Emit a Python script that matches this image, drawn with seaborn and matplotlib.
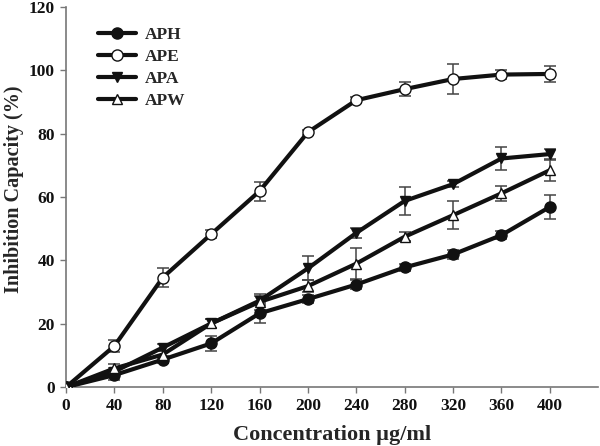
import numpy as np
import pandas as pd
import matplotlib
matplotlib.use("Agg")
import matplotlib.pyplot as plt
import seaborn as sns

# concentration (ug/ml)
conc = [0, 40, 80, 120, 160, 200, 240, 280, 320, 360, 400]

# inhibition capacity (%) and error bars
aph = [0, 3.8, 8.7, 13.8, 23.3, 27.8, 32.4, 37.8, 41.9, 48.0, 56.9]
aph_err = [0, 1.5, 1.0, 2.5, 3.2, 1.2, 1.5, 1.2, 1.5, 1.3, 3.7]
ape = [0, 13.0, 34.6, 48.3, 61.9, 80.5, 90.6, 94.1, 97.3, 98.7, 98.9]
ape_err = [0, 2.0, 3.0, 1.2, 3.0, 0.8, 1.0, 2.3, 4.7, 1.5, 2.6]
apa = [0, 4.9, 12.5, 20.1, 27.3, 37.5, 48.7, 58.8, 64.1, 72.2, 73.6]
apa_err = [0, 1.2, 1.0, 1.5, 1.5, 3.8, 1.5, 4.5, 1.0, 3.6, 1.5]
apw = [0, 5.9, 10.3, 20.1, 26.9, 31.9, 39.0, 47.5, 54.3, 61.2, 68.5]
apw_err = [0, 1.5, 1.0, 1.5, 2.5, 2.0, 4.8, 1.5, 4.5, 2.3, 3.3]

series = ["APH", "APE", "APA", "APW"]
values = {"APH": aph, "APE": ape, "APA": apa, "APW": apw}
errors = {"APH": aph_err, "APE": ape_err, "APA": apa_err, "APW": apw_err}

rows = []
for s in series:
    for c, v, e in zip(conc, values[s], errors[s]):
        rows.append({"Concentration": c, "Inhibition": v, "err": e, "Sample": s})
df = pd.DataFrame(rows)

sns.set_style("ticks")
plt.rcParams["font.family"] = ["Liberation Serif", "DejaVu Serif"]
plt.rcParams["font.weight"] = "bold"

fig = plt.figure(figsize=(6, 4.46), dpi=100)
ax = fig.add_axes([0.11, 0.132, 0.887, 0.852])

# error bars first so they sit under the markers
for s in series:
    d = df[df["Sample"] == s]
    ax.errorbar(d["Concentration"], d["Inhibition"], yerr=d["err"], fmt="none",
                ecolor="#444444", elinewidth=1.1, capsize=4, capthick=1.1, zorder=2)

markers = {"APH": "o", "APE": "o", "APA": "v", "APW": "^"}
faces = {"APH": "#111111", "APE": "white", "APA": "#111111", "APW": "white"}
for s in series:
    d = df[df["Sample"] == s]
    sns.lineplot(data=d, x="Concentration", y="Inhibition", ax=ax, color="#111111",
                 linewidth=3, marker=markers[s], markersize=8 if s in ("APH", "APE") else 7.5,
                 markerfacecolor=faces[s], markeredgecolor="#111111", markeredgewidth=1.0,
                 label=s, zorder=3)

ax.set_xlim(0, 440)
ax.set_ylim(0, 120)
ax.set_xticks(conc)
ax.set_yticks([0, 20, 40, 60, 80, 100, 120])
ax.tick_params(axis="both", labelsize=12.5, colors="#111111", length=4, width=1,
               direction="out", pad=4)
for t in ax.get_xticklabels() + ax.get_yticklabels():
    t.set_fontweight("bold")
ax.tick_params(axis="both", color="#777777")
for sp in ["top", "right"]:
    ax.spines[sp].set_visible(False)
for sp in ["left", "bottom"]:
    ax.spines[sp].set_color("#777777")
    ax.spines[sp].set_linewidth(1.2)

ax.set_xlabel("Concentration µg/ml", fontsize=16, fontweight="bold")
ax.set_ylabel("Inhibition Capacity (%)", fontsize=14.5, fontweight="bold")
ax.xaxis.set_label_coords(0.5, -0.1)
ax.yaxis.set_label_coords(-0.078, 0.52)

leg = ax.legend(loc="upper left", bbox_to_anchor=(0.03, 0.99), frameon=False,
                fontsize=12.5, handlelength=2.2, labelspacing=0.35, handletextpad=0.5)
for t in leg.get_texts():
    t.set_fontweight("bold")

fig.savefig("out.png", dpi=100)
